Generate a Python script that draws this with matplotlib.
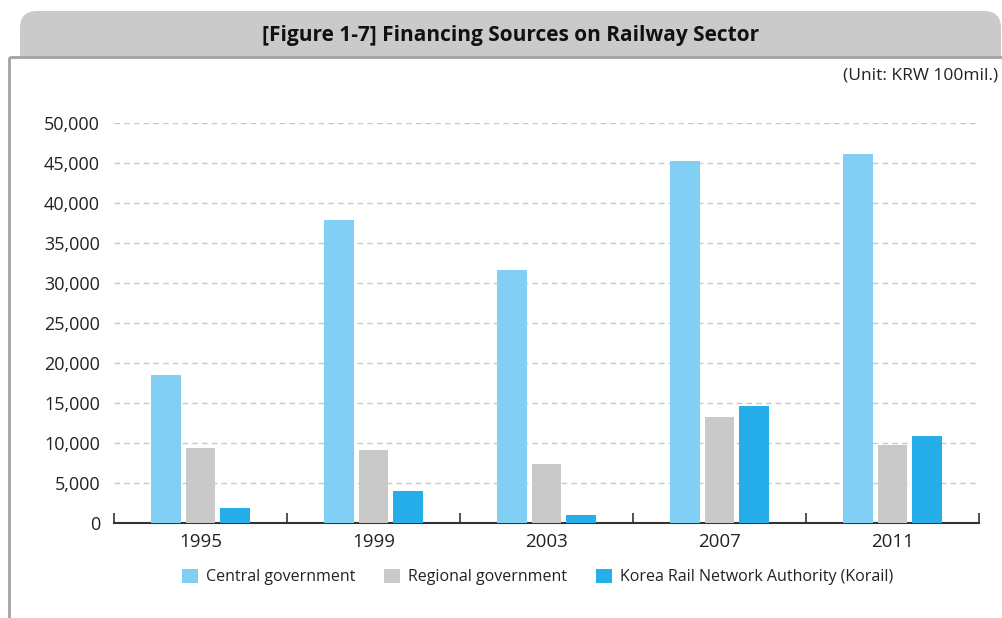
import matplotlib
matplotlib.use('Agg', force=True)
import matplotlib.pyplot as plt
import numpy as np
from matplotlib.patches import FancyBboxPatch, Rectangle

# -------------------------------
# Dati
# -------------------------------
years = ['1995', '1999', '2003', '2007', '2011']
central = [18500, 37900, 31600, 45250, 46100]
regional = [9400, 9150, 7400, 13250, 9750]
korail = [1900, 4000, 1000, 14600, 10900]
series_names = ['Central government', 'Regional government',
                'Korea Rail Network Authority (Korail)']
colors = ['#81D0F3', '#C8C9C8', '#25AEEA']
yticks = [0, 5000, 10000, 15000, 20000, 25000, 30000, 35000, 40000, 45000, 50000]

plt.rcParams['font.family'] = ['Open Sans', 'DejaVu Sans']

W, H = 1003, 618
fig = plt.figure(figsize=(W / 100, H / 100), dpi=100)

# -------------------------------
# Intestazione e cornice (coordinate in pixel)
# -------------------------------
bg = fig.add_axes([0, 0, 1, 1], zorder=-1)
bg.set_xlim(0, W)
bg.set_ylim(H, 0)
bg.axis('off')
bg.add_patch(FancyBboxPatch((20, 11), 981, 46, boxstyle="round,pad=0,rounding_size=17",
                            facecolor='#C9CAC9', edgecolor='none'))
bg.add_patch(Rectangle((20, 35), 981, 22, facecolor='#C9CAC9', edgecolor='none'))
bg.plot([9, W], [57, 57], color='#A3A3A3', linewidth=2, solid_capstyle='butt')
bg.plot([9, 9], [57, H], color='#A3A3A3', linewidth=2, solid_capstyle='butt')
bg.text(511, 35, '[Figure 1-7] Financing Sources on Railway Sector',
        ha='center', va='center', fontsize=15, fontweight='bold', color='#111111')
bg.text(998, 75, '(Unit: KRW 100mil.)', ha='right', va='center',
        fontsize=12.5, color='#222222')

# -------------------------------
# Grafico
# -------------------------------
ax = fig.add_axes([114 / W, 95 / H, 865 / W, 400 / H])
x = np.arange(len(years))
bw = 0.173
step = 0.202
for i, (vals, c, name) in enumerate(zip([central, regional, korail], colors, series_names)):
    ax.bar(x + (i - 1) * step, vals, width=bw, color=c, label=name, zorder=3)

ax.set_xlim(-0.5, len(years) - 0.5)
ax.set_ylim(0, 50000)
ax.set_yticks(yticks)
ax.set_yticklabels([f'{v:,}' for v in yticks], fontsize=13, color='#222222')
ax.tick_params(axis='y', length=0, pad=10)
ax.yaxis.grid(True, linestyle=(0, (4, 3)), color='#C8C8C8', linewidth=1)
ax.set_axisbelow(True)

ax.set_xticks(x)
ax.set_xticklabels(years, fontsize=13.5, color='#222222')
ax.tick_params(axis='x', length=0, pad=7)
ax.set_xticks(np.arange(-0.5, len(years)), minor=True)
ax.tick_params(axis='x', which='minor', direction='in', length=7, width=1.2, color='#333333')

for s in ['top', 'right', 'left']:
    ax.spines[s].set_visible(False)
ax.spines['bottom'].set_color('#333333')
ax.spines['bottom'].set_linewidth(1.5)

leg = ax.legend(loc='upper center', bbox_to_anchor=(0.49, -0.078), ncol=3, frameon=False,
                fontsize=11.5, handlelength=1.0, handleheight=1.0, handletextpad=0.5,
                columnspacing=1.8)
for t in leg.get_texts():
    t.set_color('#222222')

fig.savefig('out.png', dpi=100)
